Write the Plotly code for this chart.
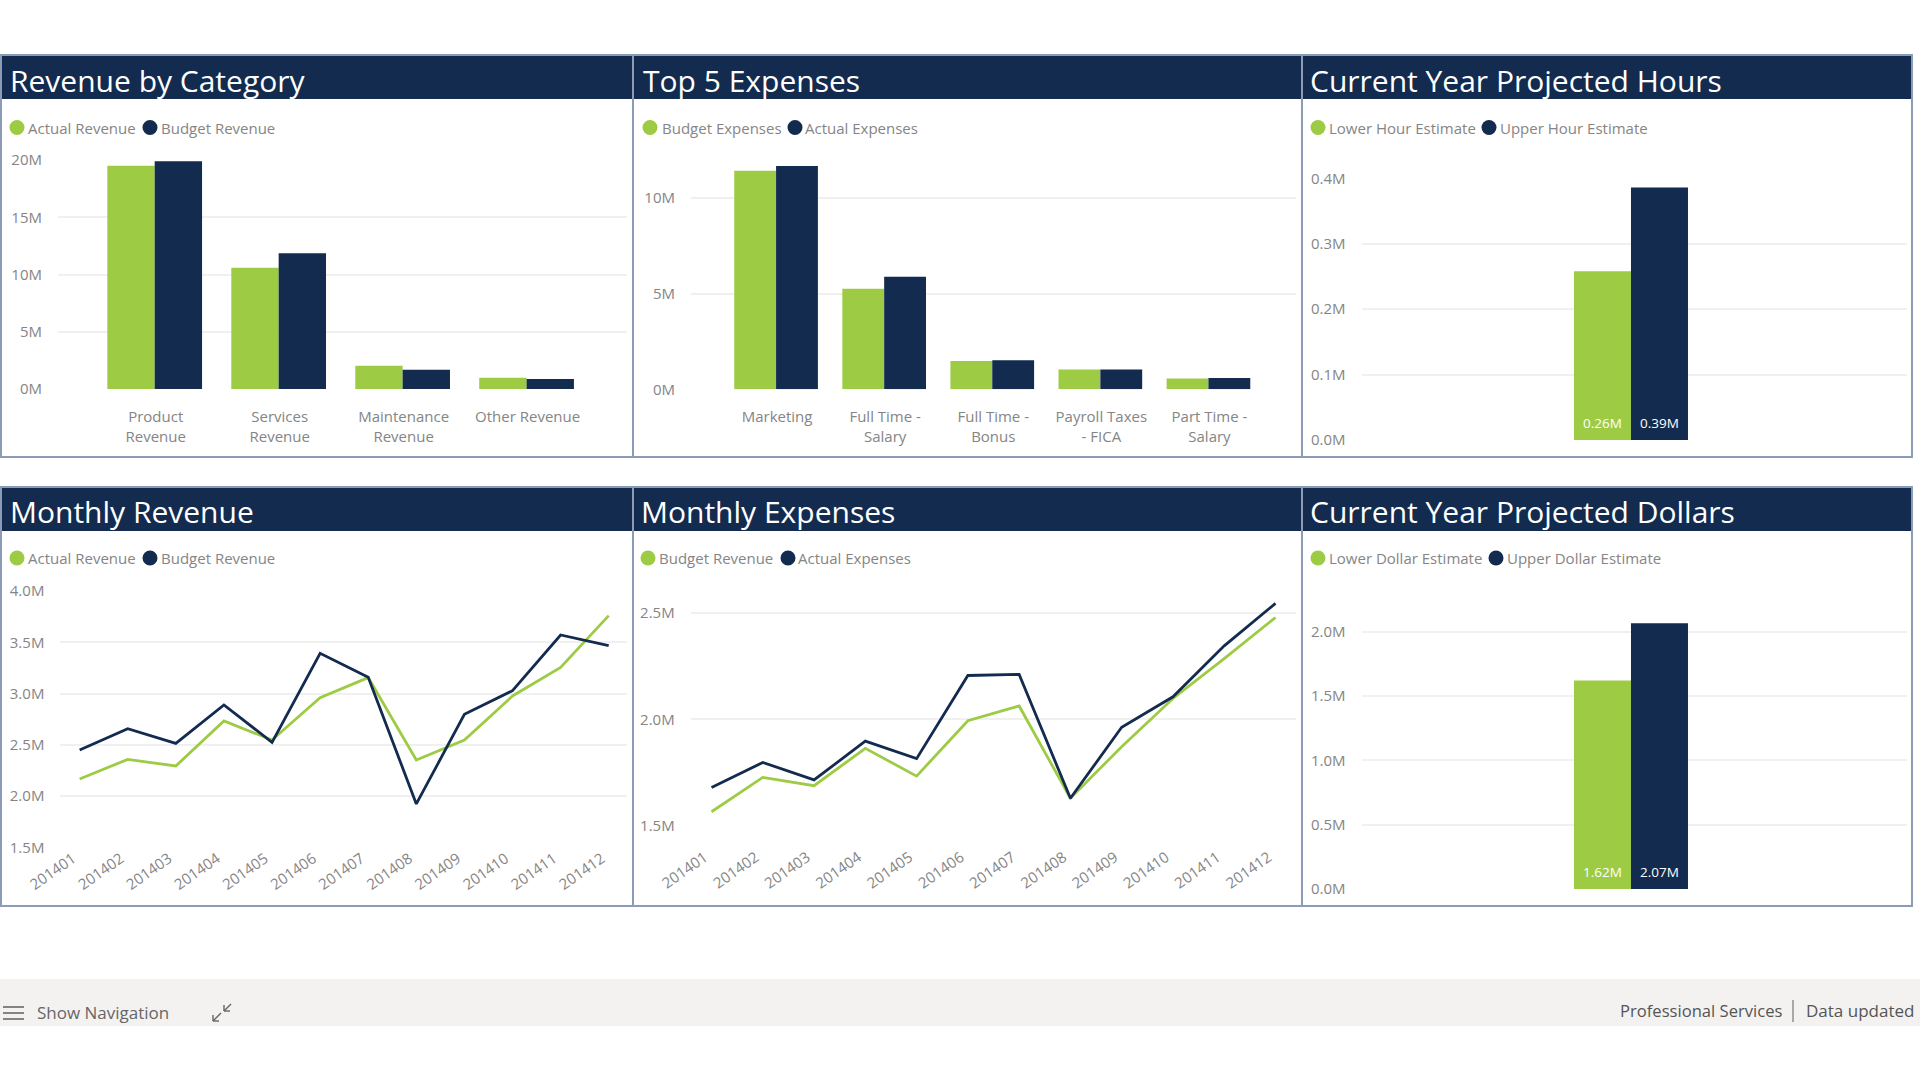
import plotly.graph_objects as go

W, H = 1920, 1080
GREEN = '#9DCB44'
NAVY = '#122B4F'
GRID = '#F0F0F0'
TICK = '#858585'
BORDER = '#8C9CB6'
FONT = 'Open Sans'

# Data

rev_categories = ['Product<br>Revenue', 'Services<br>Revenue', 'Maintenance<br>Revenue', 'Other Revenue']
rev_actual = [19.5e6, 10.6e6, 2.03e6, 0.99e6]
rev_budget = [19.9e6, 11.86e6, 1.69e6, 0.87e6]
rev_tickvals = [0, 5e6, 10e6, 15e6, 20e6]
rev_ticktext = ['0M', '5M', '10M', '15M', '20M']

exp_categories = ['Marketing', 'Full Time -<br>Salary', 'Full Time -<br>Bonus', 'Payroll Taxes<br>- FICA', 'Part Time -<br>Salary']
exp_budget = [11.41e6, 5.25e6, 1.48e6, 1.03e6, 0.56e6]
exp_actual = [11.65e6, 5.88e6, 1.51e6, 1.03e6, 0.59e6]
exp_tickvals = [0, 5e6, 10e6]
exp_ticktext = ['0M', '5M', '10M']

hours_category = ['Hours']
hours_lower = [0.258e6]
hours_upper = [0.386e6]
hours_lower_label = '0.26M'
hours_upper_label = '0.39M'
hours_tickvals = [0, 0.1e6, 0.2e6, 0.3e6, 0.4e6]
hours_ticktext = ['0.0M', '0.1M', '0.2M', '0.3M', '0.4M']

months = ['201401', '201402', '201403', '201404', '201405', '201406',
          '201407', '201408', '201409', '201410', '201411', '201412']
monthly_rev_actual = [2.166e6, 2.358e6, 2.293e6, 2.732e6, 2.547e6, 2.96e6,
                      3.155e6, 2.352e6, 2.547e6, 2.976e6, 3.255e6, 3.76e6]
monthly_rev_budget = [2.449e6, 2.657e6, 2.514e6, 2.888e6, 2.524e6, 3.392e6,
                      3.158e6, 1.923e6, 2.797e6, 3.028e6, 3.571e6, 3.467e6]
monthly_rev_tickvals = [1.5e6, 2.0e6, 2.5e6, 3.0e6, 3.5e6, 4.0e6]
monthly_rev_ticktext = ['1.5M', '2.0M', '2.5M', '3.0M', '3.5M', '4.0M']

monthly_exp_budget = [1.567e6, 1.728e6, 1.689e6, 1.864e6, 1.734e6, 1.994e6,
                      2.063e6, 1.63e6, 1.872e6, 2.098e6, 2.285e6, 2.478e6]
monthly_exp_actual = [1.681e6, 1.798e6, 1.716e6, 1.898e6, 1.816e6, 2.206e6,
                      2.211e6, 1.63e6, 1.963e6, 2.106e6, 2.345e6, 2.544e6]
monthly_exp_tickvals = [1.5e6, 2.0e6, 2.5e6]
monthly_exp_ticktext = ['1.5M', '2.0M', '2.5M']

dollars_category = ['Dollars']
dollars_lower = [1.62e6]
dollars_upper = [2.065e6]
dollars_lower_label = '1.62M'
dollars_upper_label = '2.07M'
dollars_tickvals = [0, 0.5e6, 1.0e6, 1.5e6, 2.0e6]
dollars_ticktext = ['0.0M', '0.5M', '1.0M', '1.5M', '2.0M']


def px_x(x):
    return x / W


def px_y(y):
    return 1 - y / H


fig = go.Figure()
shapes = []
annotations = []


def add_rect(x0, y0, x1, y1, fill=None, line=None, width=0, layer='below'):
    shapes.append(dict(type='rect', xref='paper', yref='paper', layer=layer,
                       x0=px_x(x0), x1=px_x(x1), y0=px_y(y0), y1=px_y(y1),
                       fillcolor=fill if fill else 'rgba(0,0,0,0)',
                       line=dict(color=line if line else 'rgba(0,0,0,0)', width=width)))


def add_seg(x0, y0, x1, y1, color, width):
    shapes.append(dict(type='line', xref='paper', yref='paper',
                       x0=px_x(x0), x1=px_x(x1), y0=px_y(y0), y1=px_y(y1),
                       line=dict(color=color, width=width)))


def add_text(x, y, text, size, color, xanchor='left'):
    annotations.append(dict(xref='paper', yref='paper', x=px_x(x), y=px_y(y), text=text,
                            showarrow=False, xanchor=xanchor, yanchor='middle', borderpad=0,
                            font=dict(family=FONT, size=size, color=color)))


def add_panel(x0, y0, x1, y1, title, title_x, legend):
    # second row sits a pixel tighter under its title bar
    title_dy, legend_dy = (25, 72.5) if y0 < 100 else (24.5, 71)
    add_rect(x0, y0, x1, y1, fill='white', line=BORDER, width=2)
    add_rect(x0 + 1, y0 + 1, x1 - 1, y0 + 44, fill=NAVY, layer='above')
    add_text(title_x, y0 + title_dy, title, 30, 'white')
    # hand drawn legend, one dot and one label per series
    for dot_x, text_x, color, label in legend:
        shapes.append(dict(type='circle', xref='paper', yref='paper',
                           x0=px_x(dot_x - 7.5), x1=px_x(dot_x + 7.5),
                           y0=px_y(y0 + legend_dy + 7.5), y1=px_y(y0 + legend_dy - 7.5),
                           fillcolor=color, line=dict(width=0)))
        add_text(text_x, y0 + legend_dy, label, 15, TICK)


def set_axes(i, xdom, ydom, xrange, yrange, tickvals, ticktext, x_standoff=0, x_shift=0, tickangle=0, show_x=True):
    sx = '' if i == 1 else str(i)
    fig.update_layout(**{
        'xaxis' + sx: dict(domain=[px_x(xdom[0]), px_x(xdom[1])], range=xrange, type='category',
                           anchor='y' + sx, showgrid=False, zeroline=False, showline=False,
                           ticks='', showticklabels=show_x, tickangle=tickangle, automargin=False,
                           ticklabelstandoff=x_standoff, ticklabelshift=x_shift, fixedrange=True,
                           tickfont=dict(family=FONT, size=15, color=TICK)),
        'yaxis' + sx: dict(domain=[px_y(ydom[1]), px_y(ydom[0])], range=yrange, automargin=False,
                           anchor='x' + sx, showgrid=True, gridcolor=GRID, gridwidth=1.5,
                           zeroline=False, showline=False, ticks='', fixedrange=True,
                           tickvals=tickvals, ticktext=ticktext, ticklabelstandoff=15,
                           tickfont=dict(family=FONT, size=15, color=TICK)),
    })


def add_bars(i, x, first, second, width):
    sx = '' if i == 1 else str(i)
    for vals, color, offset in [(first, GREEN, -width), (second, NAVY, 0)]:
        fig.add_trace(go.Bar(x=x, y=vals, marker=dict(color=color, line=dict(width=0)),
                             width=width, offset=offset,
                             showlegend=False, xaxis='x' + sx, yaxis='y' + sx))


def add_bar_label(i, x, text, shift):
    # value sits a little above the bar foot, so this is an annotation and not bar text
    sx = '' if i == 1 else str(i)
    annotations.append(dict(xref='x' + sx, yref='y' + sx, x=x, y=0, text=text, showarrow=False,
                            xshift=shift, yshift=17, yanchor='middle',
                            font=dict(family=FONT, size=13.5, color='white')))


def add_lines(i, x, first, second):
    sx = '' if i == 1 else str(i)
    for vals, color in [(first, GREEN), (second, NAVY)]:
        fig.add_trace(go.Scatter(x=x, y=vals, mode='lines', line=dict(color=color, width=2.8),
                                 showlegend=False, cliponaxis=False, xaxis='x' + sx, yaxis='y' + sx))


# Panels

add_panel(1, 55, 633, 457, 'Revenue by Category', 8.5,
          [(17, 27, GREEN, 'Actual Revenue'), (150, 160, NAVY, 'Budget Revenue')])
add_panel(633, 55, 1302, 457, 'Top 5 Expenses', 641.5,
          [(650, 661, GREEN, 'Budget Expenses'), (795, 804, NAVY, 'Actual Expenses')])
add_panel(1302, 55, 1912, 457, 'Current Year Projected Hours', 1309,
          [(1318, 1328, GREEN, 'Lower Hour Estimate'), (1489, 1499, NAVY, 'Upper Hour Estimate')])
add_panel(1, 487, 633, 906, 'Monthly Revenue', 8.5,
          [(17, 27, GREEN, 'Actual Revenue'), (150, 160, NAVY, 'Budget Revenue')])
add_panel(633, 487, 1302, 906, 'Monthly Expenses', 640,
          [(648, 658, GREEN, 'Budget Revenue'), (788, 797, NAVY, 'Actual Expenses')])
add_panel(1302, 487, 1912, 906, 'Current Year Projected Dollars', 1309,
          [(1318, 1328, GREEN, 'Lower Dollar Estimate'), (1496, 1506, NAVY, 'Upper Dollar Estimate')])

# Charts

set_axes(1, (58, 627), (160, 389), [-0.78, 3.81], [0, 20e6], rev_tickvals, rev_ticktext, x_standoff=17, x_shift=1)
add_bars(1, rev_categories, rev_actual, rev_budget, 0.382)

set_axes(2, (691, 1296), (150, 389.3), [-0.787, 4.81], [0, 12.49e6], exp_tickvals, exp_ticktext, x_standoff=17, x_shift=1)
add_bars(2, exp_categories, exp_budget, exp_actual, 0.387)

set_axes(3, (1361.5, 1907), (178.3, 440), [-0.494, 0.506], [0, 0.4e6], hours_tickvals, hours_ticktext, show_x=False)
add_bars(3, hours_category, hours_lower, hours_upper, 0.1045)
add_bar_label(3, hours_category[0], hours_lower_label, -28.5)
add_bar_label(3, hours_category[0], hours_upper_label, 28.5)

set_axes(4, (60.4, 626.5), (591, 847.3), [-0.4, 11.37], [1.5e6, 4.0e6], monthly_rev_tickvals, monthly_rev_ticktext,
         x_standoff=-1, x_shift=-7, tickangle=-35)
add_lines(4, months, monthly_rev_actual, monthly_rev_budget)

set_axes(5, (690.7, 1296), (600, 826), [-0.406, 11.4], [1.5e6, 2.56e6], monthly_exp_tickvals, monthly_exp_ticktext,
         x_standoff=19, x_shift=-7, tickangle=-35)
add_lines(5, months, monthly_exp_budget, monthly_exp_actual)

set_axes(6, (1361.5, 1907), (620, 889), [-0.494, 0.506], [0, 2.091e6], dollars_tickvals, dollars_ticktext, show_x=False)
add_bars(6, dollars_category, dollars_lower, dollars_upper, 0.1045)
add_bar_label(6, dollars_category[0], dollars_lower_label, -28.5)
add_bar_label(6, dollars_category[0], dollars_upper_label, 28.5)

# Footer bar

add_rect(0, 979, W, 1026, fill='#F3F2F1')
for y in [1007, 1013, 1019]:
    add_seg(3, y, 24, y, '#666666', 1.6)
add_text(36, 1012.5, 'Show Navigation', 17, '#666666')
add_seg(213, 1021, 221, 1013, '#666666', 1.4)
add_seg(213, 1015, 213, 1021, '#666666', 1.4)
add_seg(213, 1021, 219, 1021, '#666666', 1.4)
add_seg(231, 1004, 224, 1011, '#666666', 1.4)
add_seg(224, 1005, 224, 1011, '#666666', 1.4)
add_seg(224, 1011, 230, 1011, '#666666', 1.4)
add_text(1619, 1010.5, 'Professional Services', 16.6, '#555555')
add_seg(1793, 1000, 1793, 1022, '#8F8F8F', 1.5)
add_text(1805, 1010.5, 'Data updated', 17, '#555555')

fig.update_layout(width=W, height=H, margin=dict(l=0, r=0, t=0, b=0),
                  paper_bgcolor='white', plot_bgcolor='rgba(0,0,0,0)',
                  shapes=shapes, annotations=annotations)

fig.write_html('out.html', config=dict(displayModeBar=False),
               post_script="document.body.style.margin='0';")
